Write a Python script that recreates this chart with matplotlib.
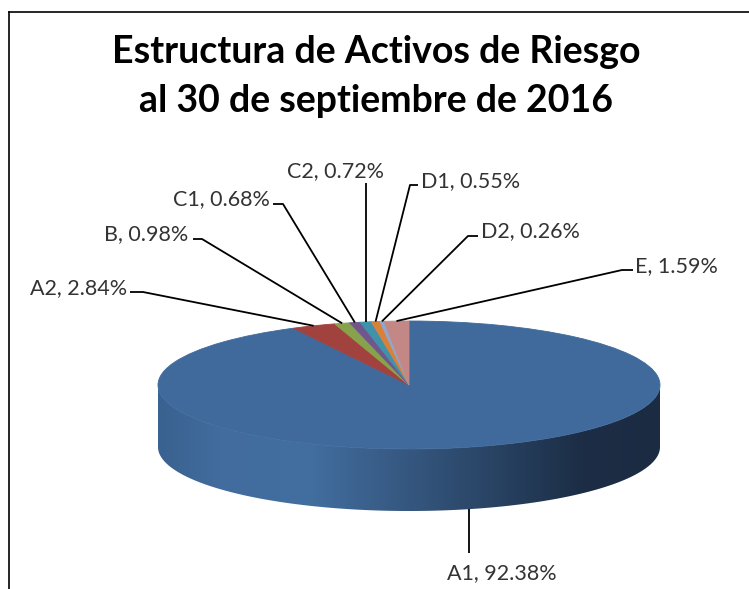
import numpy as np
import matplotlib
matplotlib.use('Agg')
import matplotlib.pyplot as plt
from matplotlib.colors import LinearSegmentedColormap
from matplotlib.patches import Polygon

# datos
categorias = ['A1', 'A2', 'B', 'C1', 'C2', 'D1', 'D2', 'E']
porcentajes = [92.38, 2.84, 0.98, 0.68, 0.72, 0.55, 0.26, 1.59]
colores = ['#3F6A9B', '#A2423F', '#87A14C', '#6F568C', '#3F92A9', '#D9813A', '#8FA7CC', '#C38886']
titulo = ['Estructura de Activos de Riesgo', 'al 30 de septiembre de 2016']

W, H = 749, 589
CX, CY, A, B = 409, 385, 251, 64   # centre / semi-axes of the top face, pixels from top-left
DEPTH = 62 / B                     # thickness of the 3D cylinder (in y units)

def px(x, y):
    # pixel (from top-left) -> data coords of the pie axes
    return (x - CX) / A, (CY - y) / B

# label layout: text anchor, ha, knee of the leader, end of the little hook
layout = {
    'A1': dict(txt=(502, 579), ha='center', codo=None, fin=(None, 553)),
    'A2': dict(txt=(127, 294), ha='right', codo=(143, 292), fin=(130, 292)),
    'B':  dict(txt=(188, 240), ha='right', codo=(202, 239), fin=(193, 239)),
    'C1': dict(txt=(270, 205), ha='right', codo=(283, 204), fin=(273, 204)),
    'C2': dict(txt=(335, 177), ha='center', codo=None, fin=(None, 183)),
    'D1': dict(txt=(421, 187), ha='left', codo=(410, 185), fin=(418, 185)),
    'D2': dict(txt=(481, 237), ha='left', codo=(468, 236), fin=(478, 236)),
    'E':  dict(txt=(635, 272), ha='left', codo=(622, 270), fin=(633, 270)),
}

plt.rcParams['font.family'] = ['Lato', 'DejaVu Sans']

fig = plt.figure(figsize=(W / 100, H / 100), dpi=100)
ax = fig.add_axes([0, 0, 1, 1])

wedges, _ = ax.pie(porcentajes, colors=colores, startangle=90, counterclock=False,
                   radius=1, wedgeprops=dict(linewidth=0.6), normalize=True)
for w in wedges:
    w.set_edgecolor(w.get_facecolor())
    w.set_zorder(3)

# side of the cylinder (only the front half is visible)
t = np.linspace(np.pi, 2 * np.pi, 300)
top = np.column_stack([np.cos(t), np.sin(t)])
bot = np.column_stack([np.cos(t), np.sin(t) - DEPTH])
side = Polygon(np.vstack([top, bot[::-1]]), closed=True, facecolor='none', edgecolor='none')
ax.add_patch(side)
cmap = LinearSegmentedColormap.from_list('lado', [
    (0.0, '#3A6290'), (0.12, '#416C9D'), (0.3, '#426EA0'), (0.5, '#35577F'),
    (0.7, '#263F5E'), (0.85, '#1C2D45'), (1.0, '#1B2B42')])
grad = np.linspace(0, 1, 500)[None, :]
im = ax.imshow(grad, cmap=cmap, extent=(-1, 1, -1 - DEPTH, 0), aspect='auto', zorder=1)
im.set_clip_path(side)

# labels with leader lines
for w, cat, val in zip(wedges, categorias, porcentajes):
    ang = np.deg2rad((w.theta1 + w.theta2) / 2)
    sx, sy = np.cos(ang), np.sin(ang)
    if cat == 'A1':
        sy = sy - DEPTH
    lay = layout[cat]
    xs, ys = [sx], [sy]
    if lay['codo'] is not None:
        kx, ky = px(*lay['codo'])
        fx, fy = px(*lay['fin'])
        xs += [kx, fx]
        ys += [ky, fy]
    else:
        _, fy = px(0, lay['fin'][1])
        xs.append(sx)
        ys.append(fy)
    ax.plot(xs, ys, color='black', lw=1.3, zorder=4, solid_capstyle='butt')
    tx, ty = px(*lay['txt'])
    ax.text(tx, ty, f'{cat}, {val:.2f}%', ha=lay['ha'], va='baseline',
            fontsize=15.5, color='#333333')

# title
for i, linea in enumerate(titulo):
    tx, ty = px(376, 63 + 49 * i)
    ax.text(tx, ty, linea, ha='center', va='baseline', fontsize=27,
            fontweight='bold', color='black')

x0, y0 = px(0, H)
x1, y1 = px(W, 0)
ax.set_xlim(x0, x1)
ax.set_ylim(y0, y1)
ax.axis('off')

# chart frame (cropped: only top and left edges visible)
fig.add_artist(plt.Line2D([9 / W, 1], [1 - 12 / H, 1 - 12 / H], color='black', lw=1.2))
fig.add_artist(plt.Line2D([9 / W, 9 / W], [0, 1 - 12 / H], color='black', lw=1.2))

fig.savefig('out.png', dpi=100)
